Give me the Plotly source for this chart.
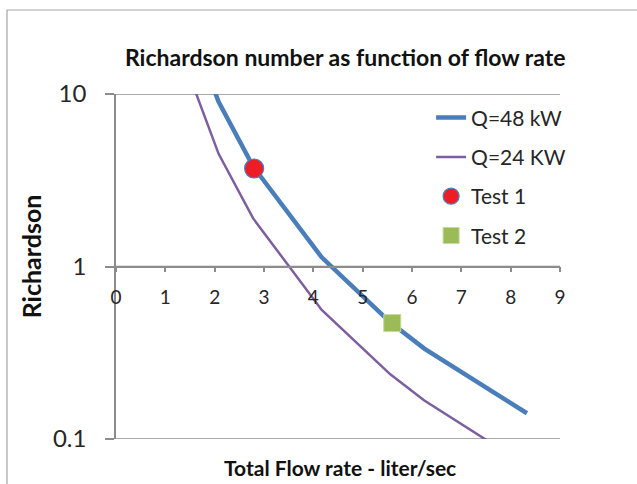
import plotly.graph_objects as go

flow = [1.39, 2.08, 2.78, 4.17, 5.56, 6.25, 8.33]
ri_48 = [30.4, 9.0, 3.8, 1.13, 0.475, 0.334, 0.141]
flow_24 = [1.39, 2.08, 2.78, 4.17, 5.56, 6.25, 8.33]
ri_24 = [15.2, 4.5, 1.9, 0.56, 0.237, 0.167, 0.07]
test1_x = [2.8]
test1_y = [3.7]
test2_x = [5.6]
test2_y = [0.47]
x_ticks = [0, 1, 2, 3, 4, 5, 6, 7, 8, 9]
y_ticks = [0.1, 1, 10]
y_ticklabels = ["0.1", "1", "10"]

FONT = "Lato"
AX = "#8c8c8c"

fig = go.Figure()
fig.add_trace(go.Scatter(x=flow, y=ri_48, mode="lines", name="Q=48 kW",
                         line=dict(color="#4A7EBB", width=4.5), legendgroup="a"))
fig.add_trace(go.Scatter(x=flow_24, y=ri_24, mode="lines", name="Q=24 KW",
                         line=dict(color="#7D5FA0", width=2.5), legendgroup="b"))
fig.add_trace(go.Scatter(x=test1_x, y=test1_y, mode="markers", name="Test 1",
                         marker=dict(color="#EE1C25", size=19, symbol="circle",
                                     line=dict(color="#4A7EBB", width=1.2)), legendgroup="c"))
fig.add_trace(go.Scatter(x=test2_x, y=test2_y, mode="markers", name="Test 2",
                         marker=dict(color="#9BBB59", size=17, symbol="square",
                                     line=dict(color="#C6DA9A", width=1)), legendgroup="d"))

grid_shapes = [dict(type="line", xref="paper", yref="y", x0=0, x1=1, y0=v, y1=v,
                    line=dict(color=AX, width=1.5), layer="below") for v in y_ticks]
border = dict(type="rect", xref="paper", yref="paper", x0=-0.2455, x1=1.2, y0=-0.16, y1=1.2435,
              line=dict(color="#a6a6a6", width=1.2), layer="below")

fig.update_layout(
    width=637, height=484,
    margin=dict(l=116, r=77, t=94, b=45),
    paper_bgcolor="white", plot_bgcolor="white",
    font=dict(family=FONT, color="#262626"),
    showlegend=True,
    legend=dict(x=1.025, y=0.99, xanchor="right", yanchor="top",
                font=dict(family=FONT, size=21, color="#262626"),
                bgcolor="rgba(0,0,0,0)", tracegroupgap=9),
    title=dict(text="<b>Richardson number as function of flow rate</b>",
               x=0.542, xanchor="center", y=0.88, yanchor="middle",
               font=dict(family=FONT, size=23, color="#111")),
    xaxis=dict(range=[0, 9], tickvals=x_ticks, ticks="outside", ticklen=5, tickwidth=1.5,
               tickcolor=AX, showline=True, linecolor=AX, linewidth=1.5, showgrid=False,
               zeroline=False, anchor="free", position=0.5, ticklabelstandoff=9,
               tickfont=dict(family=FONT, size=19, color="#262626")),
    yaxis=dict(type="log", range=[-1, 1], tickvals=y_ticks, ticktext=y_ticklabels,
               ticks="outside", ticklen=9, tickwidth=1.5, tickcolor=AX,
               showline=True, linecolor=AX, linewidth=1.5, showgrid=False,
               zeroline=False, ticklabelstandoff=14,
               tickfont=dict(family=FONT, size=24, color="#262626")),
    annotations=[
        dict(text="<b>Richardson</b>", xref="paper", yref="paper", x=-0.191, y=0.53,
             xanchor="center", yanchor="middle",
             textangle=-90, showarrow=False, font=dict(family=FONT, size=25, color="#111")),
        dict(text="<b>Total Flow rate - liter/sec</b>", xref="paper", yref="paper",
             x=0.505, y=-0.082, xanchor="center", yanchor="middle",
             showarrow=False, font=dict(family=FONT, size=21, color="#111")),
    ],
    shapes=grid_shapes + [border],
)

fig.write_html("out.html")
